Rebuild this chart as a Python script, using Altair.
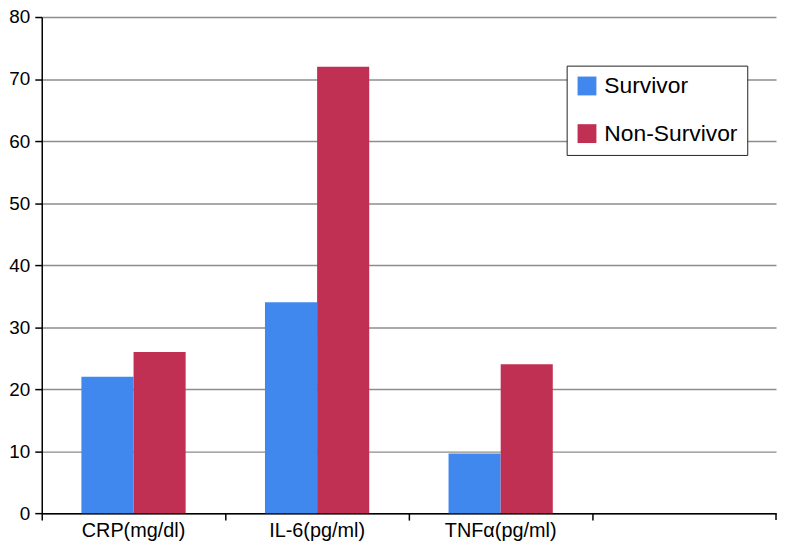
import altair as alt
import pandas as pd

categories = ["CRP(mg/dl)", "IL-6(pg/ml)", "TNFα(pg/ml)"]
domain_x = categories + [" "]
series = ["Survivor", "Non-Survivor"]
survivor = [22, 34, 9.6]
non_survivor = [26, 72, 24]
colors = ["#4088EE", "#C03052"]

rows = []
for c, s, n in zip(categories, survivor, non_survivor):
    rows.append({"cat": c, "group": "Survivor", "value": s})
    rows.append({"cat": c, "group": "Non-Survivor", "value": n})
df = pd.DataFrame(rows)

W, H = 740, 500
FONT = "Liberation Sans"

bars = alt.Chart(df).mark_bar(size=52.5).encode(
    x=alt.X("cat:N", sort=domain_x,
            scale=alt.Scale(domain=domain_x, paddingInner=0, paddingOuter=0),
            axis=alt.Axis(title=None, labelAngle=0, bandPosition=0, labelOffset=0,
                          tickSize=7, tickColor="black", tickWidth=1.5,
                          domainColor="black", domainWidth=1.5, grid=False,
                          labelFont=FONT, labelFontSize=20, labelColor="black",
                          labelPadding=1)),
    xOffset=alt.XOffset("group:N", sort=series,
                        scale=alt.Scale(domain=series, paddingOuter=0.76, paddingInner=0)),
    y=alt.Y("value:Q", scale=alt.Scale(domain=[0, 80], nice=False),
            axis=alt.Axis(title=None, values=list(range(0, 81, 10)), tickSize=7,
                          tickColor="black", tickWidth=1.5, domainColor="black",
                          domainWidth=1.5, grid=True, gridColor="#8c8c8c", gridWidth=1.5,
                          labelFont=FONT, labelFontSize=19, labelColor="black",
                          labelPadding=5)),
    color=alt.Color("group:N", sort=series,
                    scale=alt.Scale(domain=series, range=colors),
                    legend=alt.Legend(title=None, orient="none", legendX=529, legendY=49,
                                      symbolType="square", symbolSize=361,
                                      symbolStrokeWidth=0, labelFont=FONT,
                                      labelFontSize=23, labelColor="black",
                                      rowPadding=24, padding=9, labelOffset=6,
                                      strokeColor="#222", fillColor="white",
                                      cornerRadius=0)),
)

end_tick = alt.Chart(pd.DataFrame({"a": [0]})).mark_rule(color="black", strokeWidth=1.5).encode(
    x=alt.value(W), y=alt.value(H), y2=alt.value(H + 7)
)

chart = alt.layer(bars, end_tick).properties(
    width=W, height=H,
    autosize=alt.AutoSizeParams(type="none"),
    padding={"left": 34, "top": 7, "right": 2, "bottom": 29},
).configure_view(stroke=None)

chart.save("out.html", embed_options={"renderer": "svg", "actions": False})
